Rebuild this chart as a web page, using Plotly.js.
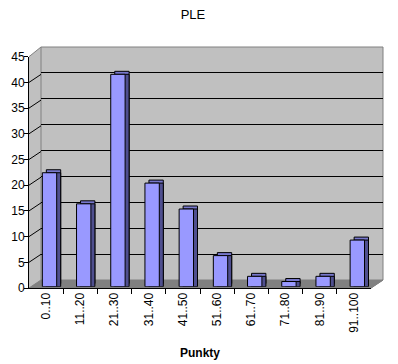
<!DOCTYPE html>
<html>
<head>
<meta charset="utf-8">
<script src="https://cdn.plot.ly/plotly-3.0.1.min.js"></script>
<style>html,body{margin:0;padding:0;background:#fff;}#chart{width:398px;height:364px;}</style>
</head>
<body>
<div id="chart"></div>
<script>
// ---- data ----
const categories = ["0..10","11..20","21..30","31..40","41..50","51..60","61..70","71..80","81..90","91..100"];
const counts = [22, 16, 41, 20, 15, 6, 2, 1, 2, 9];
const yTickValues = [0, 5, 10, 15, 20, 25, 30, 35, 40, 45];
const wallGridValues = [5, 10, 15, 20, 25, 30, 35, 40];
const chartTitle = "PLE";
const xTitle = "Punkty";

// ---- geometry (pixels) ----
const W = 398, H = 364;
const L = 29, R = 383, T = 47, B = 288;
const PW = R - L, PH = B - T;
const frontW = 342, frontH = 231.3;   // front (label) plane size
const depthX = 12, depthY = 8;         // back wall offset
const barBase = 1.3, barH = 233.1;     // bar front plane
const barDX = 4, barDY = 3;            // bar depth offset
const fx = p => p / PW, fy = p => p / PH;

const barWidth = 0.42, barOffset = -0.11;
const frontColor = "#9999FF", sideColor = "#4F4F8F", topColor = "#7777CC";

const idx = categories.map((c, i) => i);
const boundaries = categories.slice(1).map((c, i) => i + 0.5);

const catAxis = (domain, extra) => Object.assign({
  type: "category", domain: domain, range: [-0.5, categories.length - 0.5],
  categoryorder: "array", categoryarray: categories, fixedrange: true, visible: false
}, extra || {});
const hiddenY = d => ({domain: d, range: [0, 45], visible: false, fixedrange: true});

const barTrace = (ax, color) => ({type: "bar", x: categories, y: counts, xaxis: "x" + ax, yaxis: "y" + ax,
  width: barWidth, offset: barOffset, marker: {color: color, line: {color: "#000", width: 1}},
  hoverinfo: "skip", showlegend: false});

const traces = [
  {type: "scatter", x: [], y: [], xaxis: "x", yaxis: "y", hoverinfo: "skip", showlegend: false},   // back wall
  barTrace(2, topColor),     // top faces
  barTrace(3, sideColor),    // side faces
  {type: "scatter", x: [], y: [], xaxis: "x4", yaxis: "y4", hoverinfo: "skip", showlegend: false}, // labels plane
  barTrace(5, frontColor)    // front faces
];

const shapes = [
  {type: "path", xref: "paper", yref: "paper", layer: "below", line: {width: 0}, fillcolor: "#C0C0C0",
   path: `M0,${fy(frontH)} L${fx(depthX)},1 L1,1 L1,${fy(depthY)} L${fx(frontW)},0 L0,0 Z`},
  {type: "path", xref: "paper", yref: "paper", layer: "below", line: {color: "#808080", width: 1}, fillcolor: "#808080",
   path: `M0,0 L${fx(depthX)},${fy(depthY)} L1,${fy(depthY)} L${fx(frontW)},0 Z`},
  {type: "path", xref: "paper", yref: "paper", layer: "below", line: {color: "#808080", width: 1},
   path: `M0,${fy(frontH)} L${fx(depthX)},1 L1,1 L1,${fy(depthY)} L${fx(frontW)},0`},
  {type: "line", xref: "paper", yref: "paper", layer: "below", line: {color: "#808080", width: 1},
   x0: fx(depthX), x1: fx(depthX), y0: fy(depthY), y1: 1}
];
wallGridValues.forEach(v => shapes.push({
  type: "line", xref: "paper", yref: "y4", ysizemode: "pixel", yanchor: v,
  x0: 0, x1: fx(depthX), y0: 0, y1: depthY, layer: "above", line: {color: "#000", width: 1}
}));

const font = {family: "Liberation Sans, Arial, sans-serif", color: "#000"};

const layout = {
  width: W, height: H, autosize: false,
  margin: {l: L, r: W - R, t: T, b: H - B, pad: 0},
  paper_bgcolor: "#fff", plot_bgcolor: "rgba(0,0,0,0)",
  font: Object.assign({size: 12}, font),
  title: {text: chartTitle, font: Object.assign({size: 13}, font), x: 193 / W, xref: "container",
          xanchor: "center", y: 1 - 14 / H, yref: "container", yanchor: "middle"},
  showlegend: false,
  xaxis: {domain: [fx(depthX), 1], range: [0, 1], visible: false, fixedrange: true, anchor: "y"},
  yaxis: {domain: [fy(depthY), 1], range: [0, 45], tickvals: wallGridValues, showticklabels: false, ticks: "",
          showgrid: true, gridcolor: "#000", gridwidth: 1, zeroline: false, showline: false, fixedrange: true, anchor: "x"},
  xaxis2: catAxis([fx(barDX), fx(barDX + frontW)], {anchor: "y2"}),
  yaxis2: Object.assign(hiddenY([fy(barBase + barDY), fy(barBase + barDY + barH)]), {anchor: "x2"}),
  xaxis3: catAxis([fx(barDX), fx(barDX + frontW)], {anchor: "y3"}),
  yaxis3: Object.assign(hiddenY([fy(barBase), fy(barBase + barH)]), {anchor: "x3"}),
  xaxis4: {
    anchor: "y4", domain: [0, fx(frontW)], range: [-0.5, categories.length - 0.5], fixedrange: true,
    tickvals: idx, ticktext: categories, ticks: "", tickangle: -90,
    minor: {tickvals: boundaries, ticks: "outside", ticklen: 5, tickcolor: "#000", showgrid: false},
    showline: true, linecolor: "#000", linewidth: 1, showgrid: false, zeroline: false,
    tickfont: Object.assign({size: 12}, font), ticklabelstandoff: -1,
    title: {text: "<b>" + xTitle + "</b>", font: Object.assign({size: 12}, font), standoff: 16}
  },
  yaxis4: {
    anchor: "x4", domain: [0, fy(frontH)], range: [0, 45], tickvals: yTickValues, ticktext: yTickValues.map(String),
    showline: true, linecolor: "#000", linewidth: 1, ticks: "outside", ticklen: 4, tickcolor: "#000",
    showgrid: false, zeroline: false, fixedrange: true, tickfont: Object.assign({size: 12}, font),
    ticklabelstandoff: -3
  },
  xaxis5: catAxis([0, fx(frontW)], {anchor: "y5"}),
  yaxis5: Object.assign(hiddenY([fy(barBase), fy(barBase + barH)]), {anchor: "x5"}),
  shapes: shapes
};

Plotly.newPlot("chart", traces, layout, {displayModeBar: false, staticPlot: true});
</script>
</body>
</html>
